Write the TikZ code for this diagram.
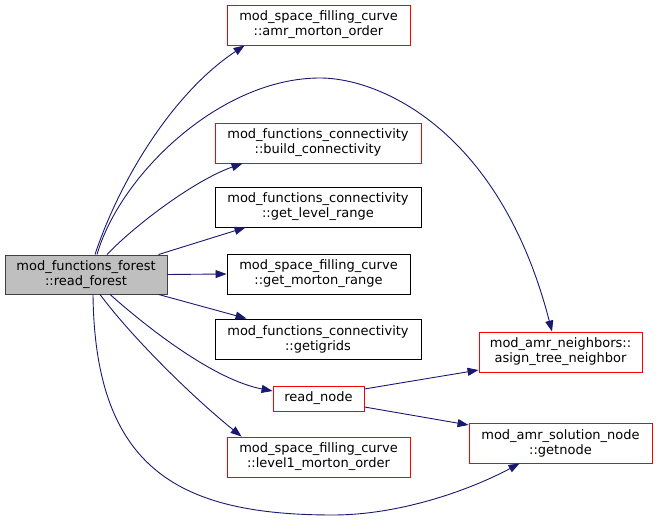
\documentclass[tikz,border=0pt]{standalone}
\usepackage{fontspec}
\setmainfont{DejaVu Sans}
\usetikzlibrary{arrows.meta,calc}
\definecolor{edgeblue}{HTML}{191970}
\definecolor{grayfill}{HTML}{BFBFBF}
\definecolor{grayborder}{HTML}{404040}
\begin{document}
\begin{tikzpicture}[x=1pt,y=-1pt,
  box/.style={draw, line width=0.9pt, inner sep=0pt, align=center,
    font=\fontsize{13}{15}\selectfont, fill=white},
  redbox/.style={box, draw=red},
  blackbox/.style={box, draw=black},
  mainbox/.style={box, draw=grayborder, fill=grayfill},
  edge/.style={draw=edgeblue, line width=0.9pt,
    -{Triangle[length=11pt,width=8pt]}, fill=none},
]
\useasboundingbox (0,0) rectangle (657,521);
\fill[white] (0,0) rectangle (657,521);

\node[mainbox, minimum width=162pt, minimum height=39pt] (rf) at (86,274.5)
  {mod\_functions\_forest\\::read\_forest};
\node[redbox, minimum width=183pt, minimum height=40pt] (amr) at (318.5,25)
  {mod\_space\_filling\_curve\\::amr\_morton\_order};
\node[redbox, minimum width=206pt, minimum height=40pt] (build) at (318,143)
  {mod\_functions\_connectivity\\::build\_connectivity};
\node[blackbox, minimum width=206pt, minimum height=40pt] (glr) at (318,207)
  {mod\_functions\_connectivity\\::get\_level\_range};
\node[blackbox, minimum width=183pt, minimum height=40pt] (gmr) at (318.5,274)
  {mod\_space\_filling\_curve\\::get\_morton\_range};
\node[blackbox, minimum width=206pt, minimum height=40pt] (gig) at (318,339)
  {mod\_functions\_connectivity\\::getigrids};
\node[redbox, minimum width=91pt, minimum height=25pt] (rn) at (318.5,398.5)
  {read\_node};
\node[redbox, minimum width=183pt, minimum height=40pt] (lvl) at (318.5,457)
  {mod\_space\_filling\_curve\\::level1\_morton\_order};
\node[redbox, minimum width=163pt, minimum height=40pt] (atn) at (560.5,352)
  {mod\_amr\_neighbors::\\asign\_tree\_neighbor};
\node[redbox, minimum width=183pt, minimum height=40pt] (gn) at (560.5,443)
  {mod\_amr\_solution\_node\\::getnode};

% edges
\draw[edge] ($(rf.north)+(9,0)$) .. controls (118,185) and (170,95) .. ($(amr.south west)+(18,0)$);
\draw[edge] ($(rf.north)+(11,0)$) .. controls (120,175) and (220,78) .. (320,78)
  .. controls (380,78) and (500,130) .. ($(atn.north)+(-8.5,0)$);
\draw[edge] ($(rf.north)+(21,0)$) .. controls (135,225) and (195,180) .. ($(build.south west)+(28,0)$);
\draw[edge] ($(rf.north east)+(-9,0)$) -- ($(glr.south west)+(31,0)$);
\draw[edge] (rf.east) -- (gmr.west);
\draw[edge] ($(rf.south east)+(-9,0)$) -- ($(gig.north west)+(32,0)$);
\draw[edge] ($(rf.south)+(24,0)$) .. controls (150,330) and (215,380) .. ($(rn.west)+(0,-7.5)$);
\draw[edge] ($(rf.south)+(14,0)$) .. controls (130,335) and (190,395) .. ($(lvl.north west)+(15,0)$);
\draw[edge] ($(rf.south)+(7,0)$) .. controls (95,470) and (180,515) .. (333,515)
  .. controls (400,515) and (470,490) .. ($(gn.south west)+(51,0)$);
\draw[edge] ($(rn.east)+(0,-9.5)$) -- ($(atn.west)+(0,18)$);
\draw[edge] ($(rn.east)+(0,8.5)$) -- ($(gn.west)+(0,-18)$);
\end{tikzpicture}
\end{document}
